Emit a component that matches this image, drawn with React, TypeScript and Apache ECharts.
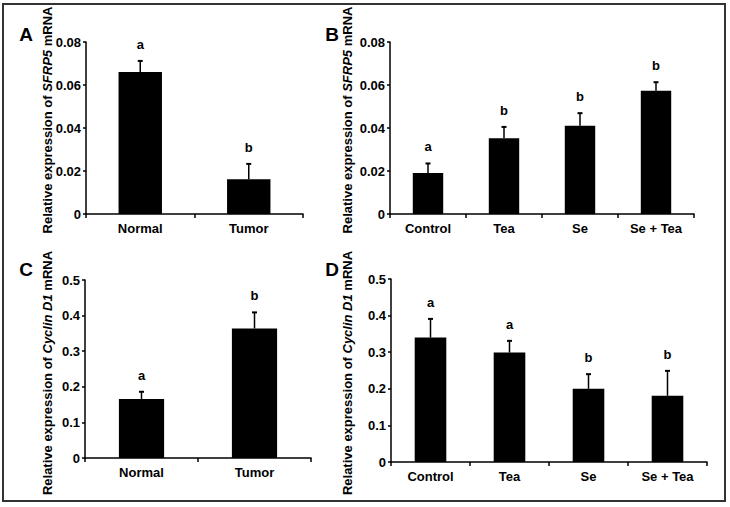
import React, { useEffect, useRef } from "react";
import * as echarts from "echarts";

const tissueCats = ["Normal", "Tumor"];
const treatCats = ["Control", "Tea", "Se", "Se + Tea"];

const sfrp5Tissue = [0.066, 0.0162];
const sfrp5TissueErr = [0.0052, 0.0071];
const sfrp5TissueLetters = ["a", "b"];

const sfrp5Treat = [0.0191, 0.0352, 0.0411, 0.0573];
const sfrp5TreatErr = [0.0044, 0.0053, 0.0058, 0.004];
const sfrp5TreatLetters = ["a", "b", "b", "b"];

const cyclinTissue = [0.166, 0.364];
const cyclinTissueErr = [0.02, 0.045];
const cyclinTissueLetters = ["a", "b"];

const cyclinTreat = [0.34, 0.299, 0.2, 0.181];
const cyclinTreatErr = [0.051, 0.032, 0.04, 0.068];
const cyclinTreatLetters = ["a", "a", "b", "b"];

const FONT = "'Liberation Sans', Arial, sans-serif";

export default function App() {
  const ref = useRef<HTMLDivElement>(null);

  useEffect(() => {
    if (!ref.current) return;
    const chart = echarts.init(ref.current, null, { renderer: "svg" });

    const grids = [
      { left: 86, top: 42, width: 217, height: 172 },
      { left: 390, top: 42, width: 304, height: 172 },
      { left: 85, top: 280, width: 226, height: 178 },
      { left: 391, top: 279, width: 316, height: 183 },
    ];

    const panels = [
      { cats: tissueCats, vals: sfrp5Tissue, errs: sfrp5TissueErr, letters: sfrp5TissueLetters, max: 0.08, step: 0.02, dec: 2 },
      { cats: treatCats, vals: sfrp5Treat, errs: sfrp5TreatErr, letters: sfrp5TreatLetters, max: 0.08, step: 0.02, dec: 2 },
      { cats: tissueCats, vals: cyclinTissue, errs: cyclinTissueErr, letters: cyclinTissueLetters, max: 0.5, step: 0.1, dec: 1 },
      { cats: treatCats, vals: cyclinTreat, errs: cyclinTreatErr, letters: cyclinTreatLetters, max: 0.5, step: 0.1, dec: 1 },
    ];

    const axisLine = { show: true, lineStyle: { color: "#000", width: 1.5 } };

    const xAxis = panels.map((p, i) => ({
      type: "category",
      gridIndex: i,
      data: p.cats,
      boundaryGap: true,
      axisLine,
      axisTick: { show: true, length: 4, inside: false, lineStyle: { color: "#000", width: 1.5 } },
      axisLabel: { color: "#000", fontFamily: FONT, fontWeight: "bold", fontSize: 13, margin: 8 },
    }));

    const yAxis = panels.map((p, i) => ({
      type: "value",
      gridIndex: i,
      min: 0,
      max: p.max,
      interval: p.step,
      splitLine: { show: false },
      axisLine,
      axisTick: { show: true, length: 3, lineStyle: { color: "#000", width: 1.5 } },
      axisLabel: {
        color: "#000",
        fontFamily: FONT,
        fontWeight: "bold",
        fontSize: 13,
        margin: 5,
        formatter: (v: number) => (v === 0 ? "0" : v.toFixed(p.dec)),
      },
    }));

    const series: any[] = [];
    panels.forEach((p, i) => {
      series.push({
        type: "bar",
        xAxisIndex: i,
        yAxisIndex: i,
        data: p.vals,
        barWidth: "40%",
        itemStyle: { color: "#000" },
        z: 2,
      });
      series.push({
        type: "custom",
        xAxisIndex: i,
        yAxisIndex: i,
        data: p.vals.map((v, k) => [k, v, p.errs[k]]),
        z: 3,
        renderItem: (params: any, api: any) => {
          const k = api.value(0);
          const v = api.value(1);
          const e = api.value(2);
          const base = api.coord([k, v]);
          const top = api.coord([k, v + e]);
          return {
            type: "group",
            children: [
              {
                type: "line",
                shape: { x1: base[0], y1: base[1], x2: top[0], y2: top[1] },
                style: { stroke: "#000", lineWidth: 1.5 },
              },
              {
                type: "line",
                shape: { x1: top[0] - 2.5, y1: top[1], x2: top[0] + 2.5, y2: top[1] },
                style: { stroke: "#000", lineWidth: 2 },
              },
              {
                type: "text",
                x: top[0],
                y: top[1] - 10,
                style: {
                  text: p.letters[k],
                  fill: "#000",
                  font: `bold 13px ${FONT}`,
                  align: "center",
                  verticalAlign: "bottom",
                },
              },
            ],
          };
        },
      });
    });

    const titleRich = {
      n: { fontFamily: FONT, fontWeight: "bold", fontSize: 13, fill: "#000" },
      i: { fontFamily: FONT, fontWeight: "bold", fontStyle: "italic", fontSize: 13, fill: "#000" },
    };

    const yTitle = (x: number, y: number, gene: string) => ({
      type: "text",
      x,
      y,
      rotation: Math.PI / 2,
      style: {
        text: `{n|Relative expression of }{i|${gene}}{n| mRNA}`,
        rich: titleRich,
        align: "center",
        verticalAlign: "middle",
        fill: "#000",
        fontFamily: FONT,
        fontWeight: "bold",
        fontSize: 13,
      },
    });

    const letter = (x: number, y: number, t: string) => ({
      type: "text",
      x,
      y,
      style: {
        text: t,
        font: `bold 19px ${FONT}`,
        fill: "#000",
        align: "center",
        verticalAlign: "middle",
      },
    });

    chart.setOption({
      animation: false,
      backgroundColor: "#fff",
      grid: grids.map((g) => ({ ...g, containLabel: false })),
      xAxis,
      yAxis,
      series,
      graphic: [
        {
          type: "rect",
          shape: { x: 3, y: 4, width: 722, height: 497 },
          style: { fill: "none", stroke: "#333", lineWidth: 2 },
        },
        yTitle(47, 120, "SFRP5"),
        yTitle(347, 120, "SFRP5"),
        yTitle(47, 373, "Cyclin D1"),
        yTitle(347, 373, "Cyclin D1"),
        letter(26, 34, "A"),
        letter(332, 34, "B"),
        letter(26, 269, "C"),
        letter(332, 269, "D"),
      ],
    });

    return () => chart.dispose();
  }, []);

  return (
    <div
      ref={ref}
      style={{ position: "fixed", left: 0, top: 0, width: 730, height: 507, background: "#fff" }}
    />
  );
}
